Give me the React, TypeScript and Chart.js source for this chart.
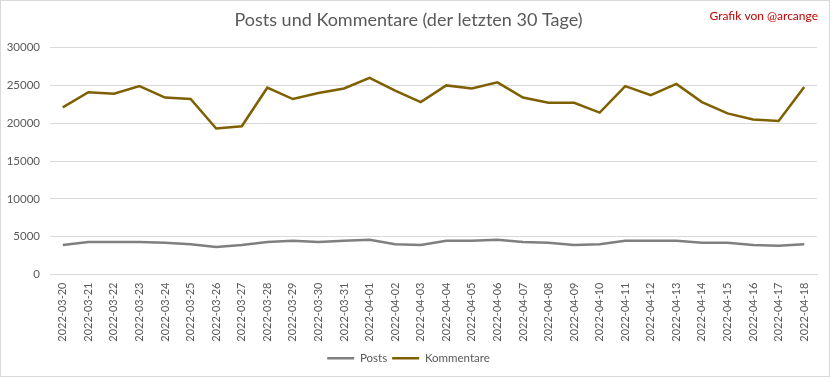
import React, { useEffect, useRef } from "react";
import { Chart, registerables } from "chart.js";

Chart.register(...registerables);

const labels = [
  "2022-03-20", "2022-03-21", "2022-03-22", "2022-03-23", "2022-03-24", "2022-03-25",
  "2022-03-26", "2022-03-27", "2022-03-28", "2022-03-29", "2022-03-30", "2022-03-31",
  "2022-04-01", "2022-04-02", "2022-04-03", "2022-04-04", "2022-04-05", "2022-04-06",
  "2022-04-07", "2022-04-08", "2022-04-09", "2022-04-10", "2022-04-11", "2022-04-12",
  "2022-04-13", "2022-04-14", "2022-04-15", "2022-04-16", "2022-04-17", "2022-04-18",
];

const posts = [
  3900, 4300, 4300, 4300, 4200, 4000, 3650, 3900, 4300, 4450, 4300, 4450,
  4600, 4000, 3900, 4450, 4450, 4600, 4300, 4200, 3900, 4000, 4450, 4450,
  4450, 4200, 4200, 3900, 3800, 4000,
];

const kommentare = [
  22100, 24100, 23900, 24900, 23400, 23200, 19300, 19600, 24700, 23200, 24000, 24600,
  26000, 24300, 22800, 25000, 24600, 25400, 23400, 22700, 22700, 21400, 24900, 23700,
  25200, 22800, 21300, 20500, 20300, 24800,
];

const titleText = "Posts und Kommentare (der letzten 30 Tage)";
const creditText = "Grafik von @arcange";

const FONT = "Lato, 'Open Sans', sans-serif";

const decorPlugin = {
  id: "decor",
  afterDraw(chart: any) {
    const ctx = chart.ctx;
    ctx.save();
    ctx.strokeStyle = "#d9d9d9";
    ctx.lineWidth = 1;
    ctx.strokeRect(0.5, 0.5, 829, 376);
    ctx.fillStyle = "#c00000";
    ctx.font = `12px ${FONT}`;
    ctx.textAlign = "right";
    ctx.textBaseline = "middle";
    ctx.fillText(creditText, 818, 16);
    ctx.restore();
  },
};

export default function App() {
  const ref = useRef<HTMLCanvasElement>(null);
  useEffect(() => {
    if (!ref.current) return;
    const chart = new Chart(ref.current, {
      type: "line",
      data: {
        labels,
        datasets: [
          {
            label: "Posts",
            data: posts,
            borderColor: "#7f7f7f",
            backgroundColor: "#7f7f7f",
            borderWidth: 2.5,
            pointRadius: 0,
            tension: 0,
          },
          {
            label: "Kommentare",
            data: kommentare,
            borderColor: "#7f6000",
            backgroundColor: "#7f6000",
            borderWidth: 2.5,
            pointRadius: 0,
            tension: 0,
          },
        ],
      },
      options: {
        animation: false,
        responsive: false,
        layout: { padding: { left: 0, right: 15, top: 0, bottom: 4 } },
        plugins: {
          title: {
            display: true,
            text: titleText,
            color: "#595959",
            font: { family: FONT, size: 18, weight: "normal" },
            padding: { top: 9, bottom: 17 },
          },
          legend: {
            position: "bottom",
            labels: {
              usePointStyle: true,
              pointStyle: "line",
              pointStyleWidth: 27,
              boxHeight: 11,
              padding: 5,
              color: "#595959",
              font: { family: FONT, size: 11.5 },
            },
          },
          tooltip: { enabled: false },
        },
        scales: {
          x: {
            offset: true,
            grid: { display: false, drawTicks: false },
            border: { display: true, color: "#d9d9d9" },
            ticks: {
              minRotation: 90,
              maxRotation: 90,
              autoSkip: false,
              padding: 8,
              color: "#595959",
              font: { family: FONT, size: 11 },
            },
            afterFit(scale: any) {
              scale.height = 73;
            },
          },
          y: {
            min: 0,
            max: 30000,
            ticks: {
              stepSize: 5000,
              padding: 10,
              color: "#595959",
              font: { family: FONT, size: 11.5 },
              callback: (v: any) => String(v),
            },
            grid: { color: "#d9d9d9", drawTicks: false },
            border: { display: false },
            afterFit(scale: any) {
              scale.width = 50;
            },
          },
        },
      },
      plugins: [decorPlugin],
    });
    return () => chart.destroy();
  }, []);
  return (
    <div style={{ position: "fixed", left: 0, top: 0, width: 832, height: 378, background: "#fff" }}>
      <canvas ref={ref} width={832} height={378} style={{ display: "block" }} />
    </div>
  );
}
